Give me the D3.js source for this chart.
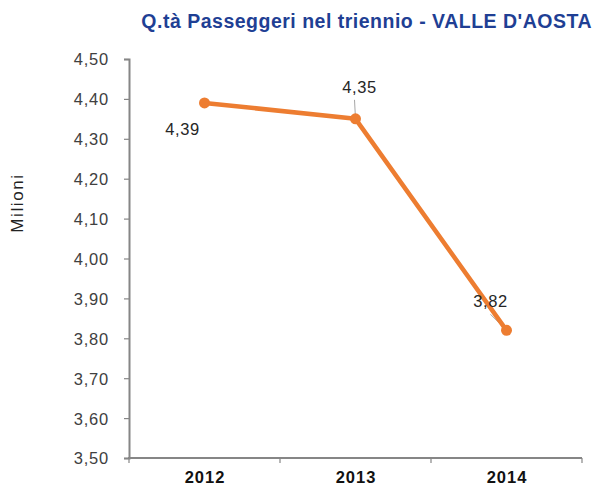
<!DOCTYPE html>
<html>
<head>
<meta charset="utf-8">
<script src="https://cdn.jsdelivr.net/npm/d3@7"></script>
<style>
  html, body { margin: 0; padding: 0; background: #fff; }
  svg text { font-family: "Liberation Sans", Arial, sans-serif; }
</style>
</head>
<body>
<svg id="chart" width="598" height="486"></svg>
<script>
// Passenger volumes (millions) for Valle d'Aosta, 2012-2014
const years = ["2012", "2013", "2014"];
const passengers = [4.39, 4.35, 3.82];
const valueLabels = ["4,39", "4,35", "3,82"];
const yTicks = [3.5, 3.6, 3.7, 3.8, 3.9, 4.0, 4.1, 4.2, 4.3, 4.4, 4.5];

const svg = d3.select("#chart");
const plotLeft = 129, plotRight = 582, plotTop = 59, plotBottom = 458;

const x = d3.scaleBand().domain(years).range([plotLeft, plotRight]);
const y = d3.scaleLinear().domain([3.5, 4.5]).range([plotBottom, plotTop]);
const fmt = d => d.toFixed(2).replace(".", ",");
const axisColor = "#868686";

// Title
svg.append("text")
  .attr("x", 592).attr("y", 28)
  .attr("text-anchor", "end")
  .attr("font-size", 19.5).attr("font-weight", "bold")
  .attr("letter-spacing", 0.5)
  .attr("fill", "#1f3f94")
  .text("Q.tà Passeggeri nel triennio - VALLE D'AOSTA");

// Y axis
const yAxis = svg.append("g")
  .attr("transform", `translate(${plotLeft},0)`)
  .call(d3.axisLeft(y).tickValues(yTicks).tickFormat(fmt).tickSize(5).tickPadding(15));
yAxis.select(".domain").attr("stroke", axisColor).attr("stroke-width", 2);
yAxis.selectAll(".tick line").attr("stroke", axisColor).attr("stroke-width", 1.2);
yAxis.selectAll(".tick text")
  .attr("font-size", 16.5).attr("letter-spacing", 0.8).attr("dy", "0.36em")
  .attr("fill", "#404040")
  .attr("font-family", "Liberation Sans, Arial, sans-serif");

// X axis with ticks at category boundaries
const xAxis = svg.append("g").attr("transform", `translate(0,${plotBottom})`);
xAxis.append("line")
  .attr("x1", plotLeft - 1).attr("x2", plotRight)
  .attr("stroke", axisColor).attr("stroke-width", 2);
const bounds = years.map(d => x(d)).concat([x(years[years.length - 1]) + x.bandwidth()]);
xAxis.selectAll("line.tk").data(bounds).join("line")
  .attr("class", "tk")
  .attr("x1", d => d).attr("x2", d => d)
  .attr("y1", 0).attr("y2", 5)
  .attr("stroke", axisColor).attr("stroke-width", 1.2);
xAxis.selectAll("text").data(years).join("text")
  .attr("x", d => x(d) + x.bandwidth() / 2 + 0.5)
  .attr("y", 25)
  .attr("text-anchor", "middle")
  .attr("font-size", 16.5).attr("font-weight", "bold")
  .attr("letter-spacing", 1)
  .attr("fill", "#111")
  .text(d => d);

// Y axis title
svg.append("text")
  .attr("transform", "translate(23,203) rotate(-90)")
  .attr("text-anchor", "middle")
  .attr("font-size", 17).attr("letter-spacing", 1.6)
  .attr("fill", "#222")
  .text("Milioni");

const pts = years.map((d, i) => ({ year: d, value: passengers[i], label: valueLabels[i] }));
const px = d => x(d.year) + x.bandwidth() / 2;
const py = d => y(d.value);

// Leader lines for labels
const leaders = [
  null,
  { dx: -1, dy: -19 },
  { dx: -16, dy: -16 }
];
svg.selectAll("line.leader").data(pts.filter((d, i) => leaders[i]))
  .join("line")
  .attr("class", "leader")
  .attr("x1", d => px(d)).attr("y1", d => py(d))
  .attr("x2", d => px(d) + leaders[pts.indexOf(d)].dx)
  .attr("y2", d => py(d) + leaders[pts.indexOf(d)].dy)
  .attr("stroke", "#a6a6a6").attr("stroke-width", 1);

// Line
svg.append("path")
  .datum(pts)
  .attr("fill", "none")
  .attr("stroke", "#ed7d31")
  .attr("stroke-width", 4.5)
  .attr("stroke-linejoin", "round")
  .attr("d", d3.line().x(px).y(py));

// Markers
svg.selectAll("circle").data(pts).join("circle")
  .attr("cx", px).attr("cy", py).attr("r", 5.5)
  .attr("fill", "#ed7d31");

// Value labels
const offsets = [
  { dx: -22, dy: 32 },
  { dx: 4, dy: -26 },
  { dx: -16, dy: -23 }
];
svg.selectAll("text.val").data(pts).join("text")
  .attr("class", "val")
  .attr("x", (d, i) => px(d) + offsets[i].dx)
  .attr("y", (d, i) => py(d) + offsets[i].dy)
  .attr("text-anchor", "middle")
  .attr("font-size", 16.5).attr("letter-spacing", 0.6)
  .attr("fill", "#262626")
  .text(d => d.label);
</script>
</body>
</html>
